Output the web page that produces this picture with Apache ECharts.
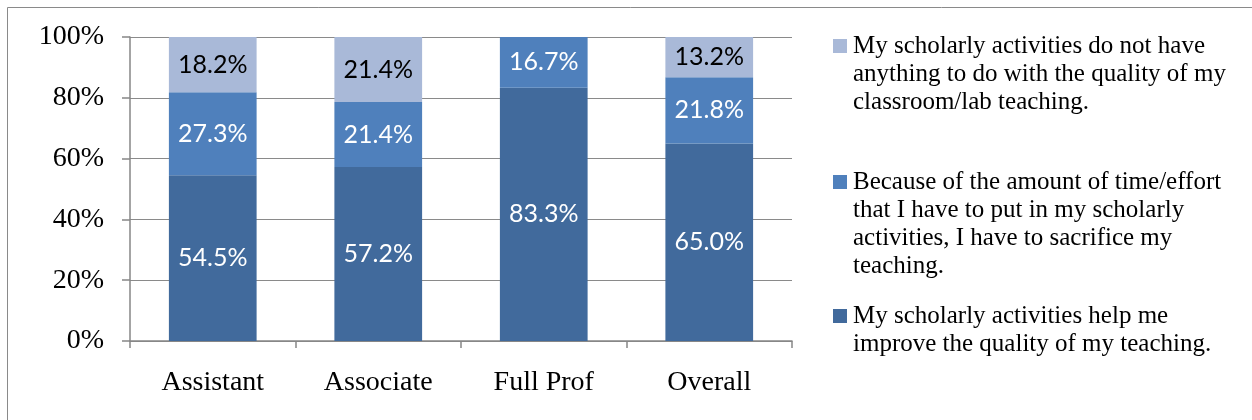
<!DOCTYPE html>
<html lang="en">
<head>
<meta charset="utf-8">
<title>Scholarly activities and teaching</title>
<style>
    html, body { margin: 0; padding: 0; background: #fff; overflow: hidden; }
    #chart { width: 1252px; height: 420px; }
</style>
</head>
<body>
<div id="chart"></div>
<script src="https://cdn.jsdelivr.net/npm/echarts@6.0.0/dist/echarts.min.js"></script>
<script type="text/javascript">

var categories = ['Assistant', 'Associate', 'Full Prof', 'Overall'];

// percentages, bottom to top of each bar
var helpValues = [54.5, 57.2, 83.3, 65.0];
var sacrificeValues = [27.3, 21.4, 16.7, 21.8];
var nothingValues = [18.2, 21.4, 0, 13.2];

var yTicks = [0, 20, 40, 60, 80, 100];

var seriesNames = [
    'My scholarly activities help me improve the quality of my teaching.',
    'Because of the amount of time/effort that I have to put in my scholarly activities, I have to sacrifice my teaching.',
    'My scholarly activities do not have anything to do with the quality of my classroom/lab teaching.'
];
// wrapped the way the legend shows them
var legendLines = [
    ['My scholarly activities help me', 'improve the quality of my teaching.'],
    ['Because of the amount of time/effort', 'that I have to put in my scholarly', 'activities, I have to sacrifice my', 'teaching.'],
    ['My scholarly activities do not have', 'anything to do with the quality of my', 'classroom/lab teaching.']
];

var colors = ['#416a9c', '#4f80bc', '#a9b9d8'];
var labelColors = ['#fff', '#fff', '#000'];
var SERIF = 'Liberation Serif';
var SANS = 'Lato';
var LINE_H = 28;

function pctLabel(p) {
    return p.value ? p.value.toFixed(1) + '%' : '';
}

// square on the first text line, box stretched to the whole text block
function legendIcon(lines) {
    var h = lines * LINE_H;
    return 'path://M0,0L0.01,0 M0,7h14v14h-14z M0,' + h + 'L0.01,' + h + ' M15,' + h + 'L14.99,' + h;
}

function makeLegend(idx, top) {
    var n = legendLines[idx].length;
    return {
        data: [seriesNames[idx]],
        orient: 'vertical',
        left: 833,
        top: top,
        padding: 0,
        icon: legendIcon(n),
        itemWidth: 15,
        itemHeight: n * LINE_H,
        selectedMode: false,
        formatter: function () { return legendLines[idx].join('\n'); },
        textStyle: { fontFamily: SERIF, fontSize: 25, color: '#000', lineHeight: LINE_H }
    };
}

var allValues = [helpValues, sacrificeValues, nothingValues];
var series = allValues.map(function (vals, i) {
    return {
        name: seriesNames[i],
        type: 'bar',
        stack: 'total',
        barWidth: '53%',
        data: vals,
        itemStyle: { color: colors[i] },
        label: {
            show: true,
            position: 'inside',
            formatter: pctLabel,
            color: labelColors[i],
            fontFamily: SANS,
            fontSize: 25
        },
        emphasis: { disabled: true }
    };
});

var chart = echarts.init(document.getElementById('chart'));
var option = {
    animation: false,
    backgroundColor: '#fff',
    graphic: [{
        type: 'rect',
        shape: { x: 7.5, y: 7.5, width: 1300, height: 500 },
        style: { fill: 'none', stroke: '#8a8a8a', lineWidth: 1 },
        silent: true
    }],
    legend: [
        makeLegend(2, 32),
        makeLegend(1, 168),
        makeLegend(0, 302)
    ],
    grid: { left: 130, right: 460, top: 37, bottom: 79 },
    xAxis: {
        type: 'category',
        data: categories,
        axisLine: { show: true, lineStyle: { color: '#868686', width: 1.5 } },
        axisTick: { show: true, length: 7, lineStyle: { color: '#868686', width: 1.5 } },
        axisLabel: { fontFamily: SERIF, fontSize: 28, color: '#000', margin: 28 }
    },
    yAxis: {
        type: 'value',
        min: yTicks[0],
        max: yTicks[yTicks.length - 1],
        interval: yTicks[1] - yTicks[0],
        axisLine: { show: true, lineStyle: { color: '#868686', width: 1.5 } },
        axisTick: { show: true, length: 8, lineStyle: { color: '#868686', width: 1.5 } },
        splitLine: { show: true, lineStyle: { color: '#8a8a8a', width: 1 } },
        axisLabel: { fontFamily: SERIF, fontSize: 28, color: '#000', margin: 26, formatter: '{value}%' }
    },
    series: series
};
chart.setOption(option);

</script>
</body>
</html>
